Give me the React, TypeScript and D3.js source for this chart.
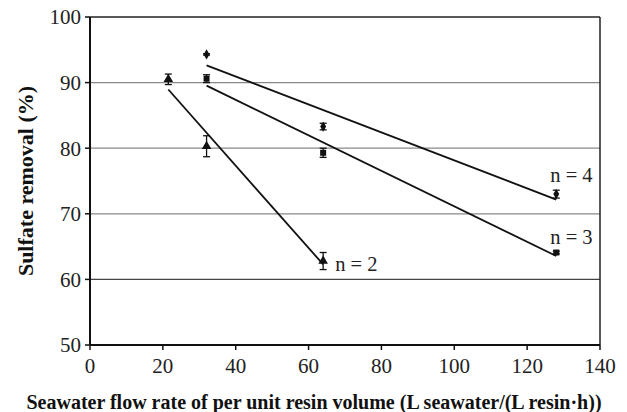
import React from "react";
import * as d3 from "d3";

const xTicks = [0, 20, 40, 60, 80, 100, 120, 140];
const yTicks = [50, 60, 70, 80, 90, 100];

const n2X = [21.5, 32, 64];
const n2Y = [90.5, 80.3, 62.8];
const n2Err = [0.8, 1.6, 1.3];

const n3X = [32, 64, 128];
const n3Y = [90.6, 79.3, 64.1];
const n3Err = [0.6, 0.7, 0.2];

const n4X = [32, 64, 128];
const n4Y = [94.3, 83.3, 73.0];
const n4Err = [0.1, 0.5, 0.6];

const labels = ["n = 2", "n = 3", "n = 4"];

function fit(xs: number[], ys: number[]) {
  const mx = d3.mean(xs)!;
  const my = d3.mean(ys)!;
  let sxy = 0, sxx = 0;
  xs.forEach((x, i) => { sxy += (x - mx) * (ys[i] - my); sxx += (x - mx) * (x - mx); });
  const b = sxy / sxx;
  return (x: number) => my + b * (x - mx);
}

export default function App() {
  const W = 627, H = 412;
  const left = 90, right = 600, top = 17, bottom = 345;
  const x = d3.scaleLinear().domain([0, 140]).range([left, right]);
  const y = d3.scaleLinear().domain([50, 100]).range([bottom, top]);
  const font = "Liberation Serif, Times New Roman, DejaVu Serif, serif";

  const series = [
    { xs: n2X, ys: n2Y, err: n2Err, shape: "tri" },
    { xs: n3X, ys: n3Y, err: n3Err, shape: "sq" },
    { xs: n4X, ys: n4Y, err: n4Err, shape: "dia" },
  ];
  const tri = d3.symbol().type(d3.symbolTriangle).size(40)()!;
  const sq = d3.symbol().type(d3.symbolSquare).size(36)()!;
  const dia = d3.symbol().type(d3.symbolDiamond).size(30)()!;

  const labelPos = [
    { x: n2X[2], y: n2Y[2], dx: 12, dy: 3 },
    { x: n3X[2], y: n3Y[2], dx: -6, dy: -16 },
    { x: n4X[2], y: n4Y[2], dx: -6, dy: -19 },
  ];

  return (
    <svg width={W} height={H} style={{ position: "absolute", left: 0, top: 0, background: "#fff" }}>
      {yTicks.filter((t) => t > 50 && t < 100).map((t) => (
        <line key={t} x1={left} x2={right} y1={y(t)} y2={y(t)} stroke={t === 60 ? "#444" : "#888"} strokeWidth={1.3} />
      ))}
      <line x1={left} x2={right} y1={top} y2={top} stroke="#222" strokeWidth={1.5} />
      <line x1={right} x2={right} y1={top} y2={bottom} stroke="#222" strokeWidth={1.5} />
      <line x1={left} x2={left} y1={top} y2={bottom} stroke="#111" strokeWidth={2} />
      <line x1={left} x2={right} y1={bottom} y2={bottom} stroke="#111" strokeWidth={2} />
      {yTicks.map((t) => (
        <g key={t}>
          <line x1={left - 5} x2={left} y1={y(t)} y2={y(t)} stroke="#111" strokeWidth={1.5} />
          <text x={left - 9} y={y(t)} dy="0.35em" textAnchor="end" style={{ fontFamily: font, fontSize: 21 }} fill="#222">{t}</text>
        </g>
      ))}
      {xTicks.map((t) => (
        <g key={t}>
          <line x1={x(t)} x2={x(t)} y1={bottom} y2={bottom + 5} stroke="#111" strokeWidth={1.5} />
          <text x={x(t)} y={bottom + 28} textAnchor="middle" style={{ fontFamily: font, fontSize: 21 }} fill="#222">{t}</text>
        </g>
      ))}
      {series.map((s, i) => {
        const f = fit(s.xs, s.ys);
        const x0 = s.xs[0], x1 = s.xs[s.xs.length - 1];
        return <line key={i} x1={x(x0)} x2={x(x1)} y1={y(f(x0))} y2={y(f(x1))} stroke="#111" strokeWidth={1.8} />;
      })}
      {series.map((s, i) => (
        <g key={i}>
          {s.xs.map((xv, j) => {
            const cx = x(xv), cy = y(s.ys[j]);
            const e1 = y(s.ys[j] + s.err[j]), e2 = y(s.ys[j] - s.err[j]);
            const d = s.shape === "tri" ? tri : s.shape === "sq" ? sq : dia;
            return (
              <g key={j}>
                <line x1={cx} x2={cx} y1={e1} y2={e2} stroke="#111" strokeWidth={1.3} />
                <line x1={cx - 3.5} x2={cx + 3.5} y1={e1} y2={e1} stroke="#111" strokeWidth={1.3} />
                <line x1={cx - 3.5} x2={cx + 3.5} y1={e2} y2={e2} stroke="#111" strokeWidth={1.3} />
                <path d={d} transform={`translate(${cx},${cy})`} fill="#111" />
              </g>
            );
          })}
        </g>
      ))}
      {labels.map((l, i) => (
        <text key={l} x={x(labelPos[i].x) + labelPos[i].dx} y={y(labelPos[i].y) + labelPos[i].dy} dy="0.35em" style={{ fontFamily: font, fontSize: 20.5 }} fill="#222">{l}</text>
      ))}
      <text transform={`translate(25,181) rotate(-90)`} textAnchor="middle" dy="0.35em" style={{ fontFamily: font, fontSize: 22, fontWeight: "bold" }} fill="#111">Sulfate removal (%)</text>
      <text x={314} y={402} dy="0.35em" textAnchor="middle" style={{ fontFamily: font, fontSize: 20, fontWeight: "bold" }} fill="#111">Seawater flow rate of per unit resin volume (L seawater/(L resin·h))</text>
    </svg>
  );
}
